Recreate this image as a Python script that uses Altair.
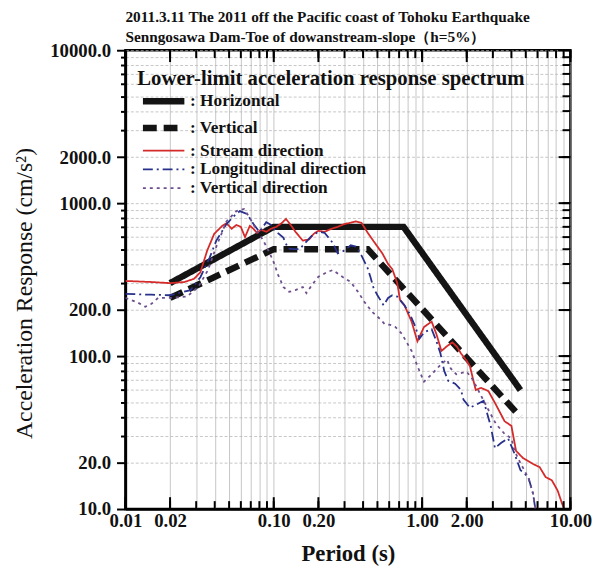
import altair as alt
import pandas as pd

# ---------------- data ----------------
title_lines = [
    "2011.3.11 The 2011 off the Pacific coast of Tohoku Earthquake",
    "Senngosawa Dam-Toe of dowanstream-slope\uff08h=5%\uff09",
]
legend_title = "Lower-limit acceleration response spectrum"
series_names = ["Horizontal", "Vertical", "Stream direction",
                "Longitudinal direction", "Vertical direction"]
series_colors = ["#141414", "#141414", "#d42a2a", "#27308a", "#6e4f8e"]
series_dash = [[1, 0], [14, 7], [1, 0], [10, 4, 2, 4], [3, 4]]
series_width = [6.5, 6.5, 1.8, 1.8, 1.8]

# lower-limit spectra
hor_T = [0.02, 0.1, 0.75, 4.6]
hor_A = [300, 700, 700, 60]
ver_T = [0.02, 0.1, 0.43, 4.6]
ver_A = [240, 500, 500, 40]

# stream direction (red)
str_T = [0.01, 0.015, 0.02, 0.025, 0.029, 0.032, 0.0356, 0.0397, 0.045, 0.048,
         0.052, 0.056, 0.060, 0.064, 0.069, 0.073, 0.077, 0.082, 0.089, 0.096,
         0.104, 0.113, 0.121, 0.130, 0.140, 0.157, 0.173, 0.186, 0.20, 0.22,
         0.245, 0.27, 0.30, 0.33, 0.356, 0.39, 0.43, 0.48, 0.54, 0.59,
         0.63, 0.68, 0.71, 0.76, 0.85, 0.93, 1.03, 1.16, 1.25, 1.35,
         1.47, 1.6, 1.72, 1.83, 2.0, 2.1, 2.3, 2.5, 2.8, 3.15,
         3.6, 4.0, 4.3, 4.8, 5.6, 6.2, 6.8, 7.5, 8.2, 8.8, 9.1]
str_A = [310, 305, 300, 305, 320, 353, 490, 631, 711, 740,
         680, 720, 700, 600, 711, 680, 640, 670, 650, 680,
         700, 740, 789, 720, 650, 569, 580, 630, 660, 650,
         680, 700, 730, 745, 760, 745, 640, 550, 469, 400,
         370, 300, 233, 215, 168, 125, 155, 168, 139, 108,
         116, 123, 115, 104, 93, 86, 60, 62, 59, 48,
         37.5, 35, 24, 21.5, 19.7, 18.8, 16.2, 15.4, 13.2, 10.8, 10]

# longitudinal direction (blue)
lon_T = [0.01, 0.015, 0.02, 0.0275, 0.032, 0.037, 0.041, 0.048, 0.054, 0.059,
         0.066, 0.073, 0.080, 0.089, 0.096, 0.104, 0.116, 0.125, 0.135, 0.149,
         0.166, 0.18, 0.20, 0.22, 0.25, 0.27, 0.30, 0.33, 0.36, 0.39,
         0.43, 0.45, 0.47, 0.50, 0.55, 0.59, 0.63, 0.68, 0.76, 0.83,
         0.89, 0.96, 1.03, 1.16, 1.25, 1.33, 1.41, 1.5, 1.67, 1.83,
         1.9, 2.1, 2.3, 2.6, 2.9, 3.1, 3.4, 3.8, 4.2, 4.6,
         5.2, 5.6, 5.8]
lon_A = [255, 252, 250, 270, 328, 441, 569, 730, 824, 887,
         850, 730, 650, 750, 720, 650, 595, 505, 500, 500,
         560, 610, 650, 640, 550, 469, 490, 530, 520, 455,
         375, 325, 280, 250, 215, 240, 250, 245, 215, 187,
         160, 130, 143, 150, 125, 104, 80, 69, 66, 60,
         52, 46, 48, 51, 35, 25, 27, 29, 23, 18,
         16.2, 12.6, 10]

# vertical direction (purple)
vdr_T = [0.01, 0.012, 0.0136, 0.015, 0.0166, 0.02, 0.026, 0.031, 0.036, 0.041,
         0.048, 0.056, 0.063, 0.069, 0.077, 0.085, 0.094, 0.1, 0.107, 0.116,
         0.127, 0.14, 0.157, 0.166, 0.18, 0.2, 0.23, 0.25, 0.29, 0.33,
         0.37, 0.41, 0.46, 0.52, 0.56, 0.61, 0.66, 0.73, 0.85, 0.93,
         1.03, 1.16, 1.35, 1.47, 1.56, 1.7, 2.0, 2.2, 2.5, 2.75,
         3.15, 3.6, 4.0, 4.2, 4.6, 5.2, 5.6, 5.8]
vdr_A = [240, 225, 210, 220, 240, 240, 245, 283, 365, 520,
         760, 887, 915, 800, 660, 570, 470, 410, 340, 283,
         263, 270, 283, 258, 290, 330, 355, 365, 330, 305,
         263, 225, 195, 175, 162, 160, 155, 140, 108, 86,
         68, 76, 89, 95, 83, 76, 79, 70, 55, 46,
         36, 31, 29, 24, 20, 16, 12.6, 10]

x_labels = [0.01, 0.02, 0.1, 0.2, 1, 2, 10]
y_labels = [10, 20, 100, 200, 1000, 2000, 10000]
x_ticks = [0.01, 0.02, 0.03, 0.04, 0.05, 0.06, 0.07, 0.08, 0.09,
           0.1, 0.2, 0.3, 0.4, 0.5, 0.6, 0.7, 0.8, 0.9,
           1, 2, 3, 4, 5, 6, 7, 8, 9, 10]
y_ticks = [10, 20, 30, 40, 50, 60, 70, 80, 90,
           100, 200, 300, 400, 500, 600, 700, 800, 900,
           1000, 2000, 3000, 4000, 5000, 6000, 7000, 8000, 9000, 10000]

# ---------------- build tables ----------------
rows = []
for name, T, A in zip(series_names,
                      [hor_T, ver_T, str_T, lon_T, vdr_T],
                      [hor_A, ver_A, str_A, lon_A, vdr_A]):
    for i, (t, a) in enumerate(zip(T, A)):
        rows.append({"series": name, "T": t, "A": a, "i": i})
df = pd.DataFrame(rows)

xt_minor = pd.DataFrame({"T": x_ticks})
xt_major = pd.DataFrame({"T": x_labels})
yt_minor = pd.DataFrame({"A": y_ticks})
yt_major = pd.DataFrame({"A": y_labels})

W, H = 451, 465
SERIF = "Liberation Serif"

x_scale = alt.Scale(type="log", domain=[0.01, 10])
y_scale = alt.Scale(type="log", domain=[10, 10000])

x_major = f"indexof({x_labels}, datum.value) >= 0"
y_major = f"indexof({y_labels}, datum.value) >= 0"

legend = alt.Legend(
    title=legend_title, orient="none", legendX=12, legendY=18,
    titleFont=SERIF, titleFontSize=21, titleFontWeight="bold", titleColor="#111",
    titlePadding=4, titleLimit=500,
    labelFont=SERIF, labelFontSize=17.5, labelFontWeight="bold", labelColor="#111",
    labelExpr="': ' + datum.label", symbolType="M-1,0H13", symbolSize=36,
    labelOffset=36, rowPadding=0, labelLimit=400,
)

enc_common = dict(
    color=alt.Color("series:N", scale=alt.Scale(domain=series_names, range=series_colors),
                    legend=legend),
    strokeDash=alt.StrokeDash("series:N", scale=alt.Scale(domain=series_names, range=series_dash),
                              legend=legend),
    strokeWidth=alt.StrokeWidth("series:N",
                                scale=alt.Scale(type="ordinal", domain=series_names,
                                                range=series_width),
                                legend=legend),
    order=alt.Order("i:Q"),
)

x_main_axis = alt.Axis(
    values=x_ticks, labelExpr=f"{x_major} ? format(datum.value, '.2f') : ''",
    labelFont=SERIF, labelFontSize=19, labelFontWeight="bold", labelColor="#111",
    labelOverlap=False, labelFlush=False, labelPadding=3, ticks=False,
    domainColor="black", domainWidth=2.5,
    grid=True, gridColor="#b8b8b8", gridWidth=0.8,
    title="Period (s)", titleFont=SERIF, titleFontSize=23, titleFontWeight="bold",
    titleColor="#111", titlePadding=12,
)
y_main_axis = alt.Axis(
    values=y_ticks, labelExpr=f"{y_major} ? format(datum.value, '.1f') : ''",
    labelFont=SERIF, labelFontSize=19, labelFontWeight="bold", labelColor="#111",
    labelOverlap=False, labelFlush=False, labelPadding=6,
    tickColor="black", tickWidth=2,
    tickSize={"condition": {"test": y_major, "value": 9}, "value": 5},
    domainColor="black", domainWidth=2.5,
    grid=True, gridColor="#b8b8b8", gridWidth=0.8, gridDash=[3, 2],
    title="Acceleration Response (cm/s\u00b2)", titleFont=SERIF, titleFontSize=24,
    titleFontWeight="normal", titleColor="#111",
    titleX=-102, titleY=246, titleAngle=270, titleAlign="center", titleBaseline="middle",
)

design = alt.Chart(df).transform_filter(
    alt.FieldOneOfPredicate(field="series", oneOf=series_names[:2])
).mark_line(strokeCap="butt").encode(
    x=alt.X("T:Q", scale=x_scale, axis=x_main_axis),
    y=alt.Y("A:Q", scale=y_scale, axis=y_main_axis),
    **enc_common,
)
measured = alt.Chart(df).transform_filter(
    alt.FieldOneOfPredicate(field="series", oneOf=series_names[2:])
).mark_line(clip=True).encode(
    x=alt.X("T:Q", scale=x_scale, axis=None),
    y=alt.Y("A:Q", scale=y_scale, axis=None),
    **enc_common,
)

# inward ticks on the bottom, top and right frame edges
TICK_COLOR = "black"
def xticks(data, y0, y1):
    return alt.Chart(data).mark_rule(color=TICK_COLOR, strokeWidth=2).encode(
        x=alt.X("T:Q", scale=x_scale, axis=None), y=alt.value(y0), y2=alt.value(y1))

def yticks(data, x0, x1):
    return alt.Chart(data).mark_rule(color=TICK_COLOR, strokeWidth=2).encode(
        y=alt.Y("A:Q", scale=y_scale, axis=None), x=alt.value(x0), x2=alt.value(x1))

tick_layers = [
    xticks(xt_minor, H, H - 8), xticks(xt_major, H, H - 12),
    xticks(xt_minor, 0, 8), xticks(xt_major, 0, 12),
    yticks(yt_minor, W, W - 8), yticks(yt_major, W, W - 12),
]

chart = alt.layer(design, measured, *tick_layers).resolve_axis(
    x="independent", y="independent"
).properties(
    width=W, height=H,
    title=alt.TitleParams(text=title_lines, anchor="start", frame="group",
                          font=SERIF, fontSize=15.5, fontWeight="bold", color="#111",
                          lineHeight=20, offset=-4),
    autosize=alt.AutoSizeParams(type="none"),
    padding={"left": 119, "top": 39, "right": 32, "bottom": 58},
).configure_view(stroke="black", strokeWidth=2.5)

chart.save("out.html", embed_options={"renderer": "svg", "actions": False})
